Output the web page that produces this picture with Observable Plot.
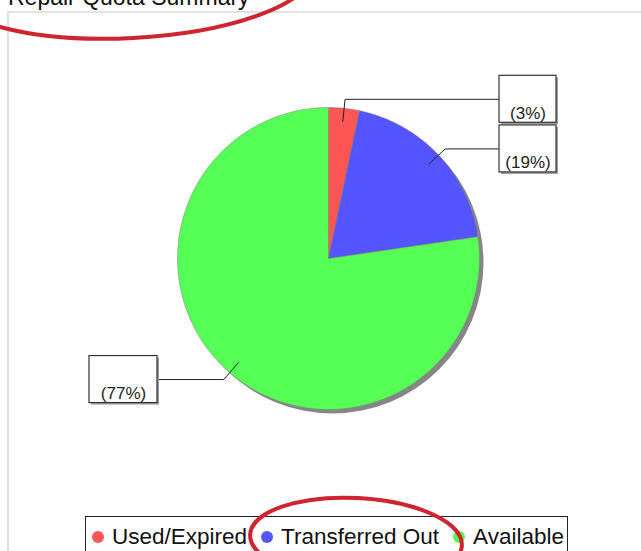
<!DOCTYPE html>
<html>
<head>
<meta charset="utf-8">
<script src="https://cdn.jsdelivr.net/npm/d3@7"></script>
<script src="https://cdn.jsdelivr.net/npm/@observablehq/plot@0.6"></script>
<style>
  html, body { margin: 0; padding: 0; background: #fff; overflow: hidden; width: 641px; height: 551px; }
  body { font-family: "Liberation Sans", Arial, Helvetica, sans-serif; }
  #wrap { position: relative; width: 641px; height: 551px; overflow: hidden; }
  #frame { position: absolute; left: 7px; top: 11px; width: 700px; height: 700px;
           border-top: 2px solid #e3e3e3; border-left: 2px solid #e0e0e0; }
  #chart { position: absolute; left: 0; top: 0; }
  #title { position: absolute; left: 8px; top: -14.5px; font-size: 23px; line-height: 23px; color: #111; white-space: nowrap; }
  #legend { position: absolute; left: 85px; top: 516px; width: 483px; height: 50px; box-sizing: border-box;
            border: 1px solid #222; padding: 7px 0 0 6px; display: flex; align-items: flex-start; }
  #legend .item { display: flex; align-items: center; margin-right: 14px; font-size: 22.5px; line-height: 26px; height: 26px; color: #111; white-space: nowrap; }
  #legend .dot { width: 12px; height: 12px; border-radius: 50%; margin-right: 8px; margin-top: -1px; }
  #notes { position: absolute; left: 0; top: 0; pointer-events: none; }
</style>
</head>
<body>
<div id="wrap">
  <div id="frame"></div>
</div>
<script>
// ---- data ----
const title = "Repair Quota Summary";
const categories = ["Used/Expired", "Transferred Out", "Available"];
const values = [3.3, 19.4, 77.3];
const colors = ["#FF5555", "#5555FF", "#55FF55"];

// ---- layout ----
const W = 641, H = 551;
const cx = 328, cy = 258, R = 151;
const ux = px => (px - cx) / R;
const uy = py => (cy - py) / R;
const rightBoxX = 499, rightBoxW = 57, leftBoxRight = 157, leftBoxW = 68, boxH = 47, textDrop = 14;

const total = d3.sum(values);
let cum = 0;
const slices = categories.map((c, i) => {
  const a0 = cum / total * 2 * Math.PI;
  cum += values[i];
  const a1 = cum / total * 2 * Math.PI;
  return { c, v: values[i], a0, a1, mid: (a0 + a1) / 2,
           label: `(${Math.round(values[i] / total * 100)}%)` };
});

// slice polygons (unit circle, angle clockwise from 12 o'clock)
const pts = [];
for (const s of slices) {
  pts.push({ c: s.c, x: 0, y: 0 });
  const n = Math.max(2, Math.ceil((s.a1 - s.a0) / (Math.PI / 360)));
  for (let k = 0; k <= n; k++) {
    const t = s.a0 + (s.a1 - s.a0) * k / n;
    pts.push({ c: s.c, x: Math.sin(t), y: Math.cos(t) });
  }
  pts.push({ c: s.c, x: 0, y: 0 });
}

// label boxes and connectors
const boxes = slices.map(s => {
  const right = Math.sin(s.mid) >= 0;
  const ey = 1.06 * Math.cos(s.mid);
  const x1 = right ? ux(rightBoxX) : ux(leftBoxRight - leftBoxW);
  const x2 = right ? ux(rightBoxX + rightBoxW) : ux(leftBoxRight);
  return { ...s, right, ex: 1.06 * Math.sin(s.mid), ey, x1, x2,
           y1: ey - boxH / 2 / R, y2: ey + boxH / 2 / R,
           tx: (x1 + x2) / 2, ty: ey - textDrop / R };
});
const conn = [];
for (const b of boxes) {
  conn.push({ c: b.c, x: 0.91 * Math.sin(b.mid), y: 0.91 * Math.cos(b.mid) });
  conn.push({ c: b.c, x: b.ex, y: b.ey });
  conn.push({ c: b.c, x: b.right ? b.x1 : b.x2, y: b.ey });
}

const font = '"Liberation Sans", Arial, Helvetica, sans-serif';
const chart = Plot.plot({
  width: W, height: H,
  margin: 0,
  style: { background: "transparent", fontFamily: font, overflow: "visible" },
  x: { domain: [ux(0), ux(W)], range: [0, W], axis: null },
  y: { domain: [uy(H), uy(0)], range: [H, 0], axis: null },
  color: { domain: categories, range: colors },
  marks: [
    Plot.dot([0], { x: () => 0, y: () => 0, r: R, fill: "#868686", stroke: null, dx: 4, dy: 4 }),
    Plot.line(pts, { x: "x", y: "y", z: "c", fill: "c", stroke: "#7d7d7d", strokeWidth: 0.5, curve: "linear" }),
    Plot.line(conn, { x: "x", y: "y", z: "c", stroke: "#222", strokeWidth: 1, strokeLinecap: "butt", strokeLinejoin: "miter" }),
    Plot.rect(boxes, { x1: "x1", x2: "x2", y1: "y1", y2: "y2", fill: "#9c9c9c", dx: 2, dy: 2 }),
    Plot.rect(boxes, { x1: "x1", x2: "x2", y1: "y1", y2: "y2", fill: "white", stroke: "#333", strokeWidth: 1.2 }),
    Plot.text(boxes, { x: "tx", y: "ty", text: "label", fontSize: 17, fill: "#222", fontFamily: font })
  ]
});
chart.id = "chart";
const wrap = document.getElementById("wrap");
wrap.appendChild(chart);

// title
const t = document.createElement("div");
t.id = "title";
t.textContent = title;
wrap.appendChild(t);

// legend
const lg = document.createElement("div");
lg.id = "legend";
categories.forEach((c, i) => {
  const it = document.createElement("div");
  it.className = "item";
  const d = document.createElement("span");
  d.className = "dot";
  d.style.background = colors[i];
  it.appendChild(d);
  it.appendChild(document.createTextNode(c));
  lg.appendChild(it);
});
wrap.appendChild(lg);

// hand-drawn red annotation ellipses
const notes = d3.create("svg").attr("id", "notes").attr("width", W).attr("height", H);
notes.append("ellipse").attr("cx", 130).attr("cy", -20).attr("rx", 183).attr("ry", 58)
  .attr("transform", "rotate(-3 130 -20)")
  .attr("fill", "none").attr("stroke", "#cf2530").attr("stroke-width", 4);
notes.append("ellipse").attr("cx", 356).attr("cy", 540).attr("rx", 106).attr("ry", 42)
  .attr("transform", "rotate(3 356 540)")
  .attr("fill", "none").attr("stroke", "#cf2530").attr("stroke-width", 4);
wrap.appendChild(notes.node());
</script>
</body>
</html>
